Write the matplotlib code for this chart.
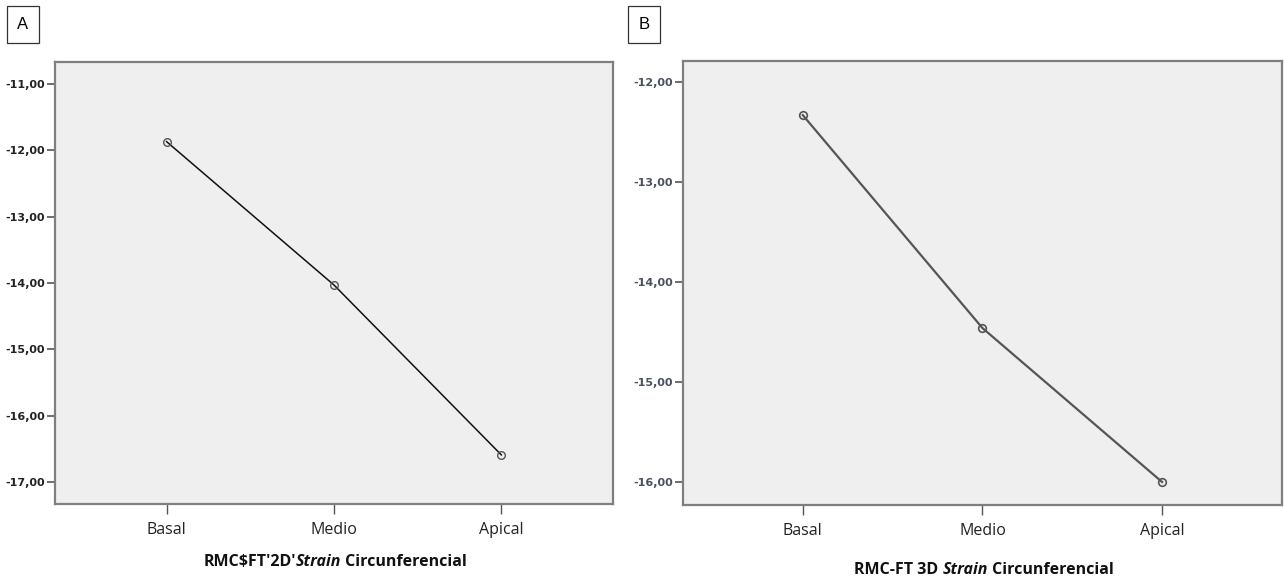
import matplotlib.pyplot as plt
from matplotlib.patches import Rectangle

categories = ["Basal", "Medio", "Apical"]
values_a = [-11.87, -14.03, -16.59]
values_b = [-12.33, -14.46, -16.00]
yticks_a = [-11, -12, -13, -14, -15, -16, -17]
yticks_b = [-12, -13, -14, -15, -16]

plt.rcParams['font.family'] = ['Open Sans', 'DejaVu Sans']

fig = plt.figure(figsize=(12.84, 5.81), dpi=100)


def style_axes(ax, yticks, ylim, tick_color):
    ax.set_facecolor('#efefef')
    for s in ax.spines.values():
        s.set_color('#7f7f7f')
        s.set_linewidth(1.6)
    ax.set_xticks(range(len(categories)))
    ax.set_xticklabels(categories, fontsize=11.5, color='#222222')
    ax.set_yticks(yticks)
    ax.set_yticklabels([("%.2f" % v).replace('.', ',') for v in yticks],
                       fontsize=8, fontweight='bold', color=tick_color,
                       family='DejaVu Sans')
    ax.tick_params(axis='y', length=6, width=1.2, color='#555555', pad=1)
    ax.tick_params(axis='x', length=7, width=1.0, color='#555555', pad=6)
    ax.set_xlim(-0.667, 2.667)
    ax.set_ylim(*ylim)


def label_box(x, y, txt):
    fig.text(x, y, txt, fontsize=12, ha='center', va='center',
             family='Liberation Sans')
    fig.patches.append(Rectangle((x - 0.0125, y - 0.032), 0.025, 0.064,
                                 transform=fig.transFigure, fill=False,
                                 edgecolor='#333333', linewidth=0.9))


def xlabel_parts(center, y, parts):
    # chain the pieces so the italic word sits between the bold ones
    prev = None
    objs = []
    for txt, st in parts:
        if prev is None:
            prev = fig.text(0, y, txt, fontsize=11.5, fontweight='bold',
                            style=st, ha='left', va='bottom',
                            color='#111111')
        else:
            prev = fig.add_artist(plt.Annotation(
                txt, xy=(1, 0), xycoords=prev, xytext=(0, 0),
                textcoords='offset points', fontsize=11.5,
                fontweight='bold', style=st, ha='left', va='bottom',
                color='#111111'))
        objs.append(prev)
    fig.canvas.draw()
    r = fig.canvas.get_renderer()
    x0 = objs[0].get_window_extent(r).x0
    x1 = objs[-1].get_window_extent(r).x1
    w = (x1 - x0) / fig.bbox.width
    objs[0].set_x(center - w / 2)


# Panel A
ax1 = fig.add_axes([0.0428, 0.1325, 0.4346, 0.7608])
style_axes(ax1, yticks_a, (-17.33, -10.67), '#222222')
ax1.plot(range(3), values_a, color='#111111', linewidth=1.1, marker='o',
         markersize=5.5, markerfacecolor='none', markeredgecolor='#555555',
         markeredgewidth=1.0)

# Panel B
ax2 = fig.add_axes([0.5319, 0.1308, 0.4665, 0.764])
style_axes(ax2, yticks_b, (-16.23, -11.79), '#4a5060')
ax2.plot(range(3), values_b, color='#555555', linewidth=1.6, marker='o',
         markersize=5.5, markerfacecolor='none', markeredgecolor='#555555',
         markeredgewidth=1.2)

label_box(0.0178, 0.958, 'A')
label_box(0.5015, 0.958, 'B')

xlabel_parts(335 / 1284, 1 - 570 / 581,
             [("RMC$FT'2D'", 'normal'), ("Strain", 'italic'),
              (" Circunferencial", 'normal')])
xlabel_parts(984 / 1284, 1 - 578 / 581,
             [("RMC-FT 3D ", 'normal'), ("Strain", 'italic'),
              (" Circunferencial", 'normal')])

fig.savefig('out.png', dpi=100)
